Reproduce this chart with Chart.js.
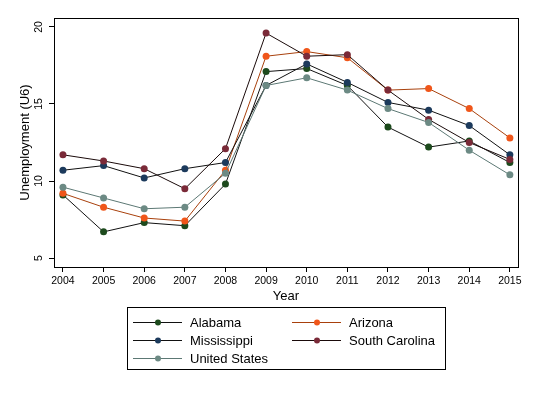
<!DOCTYPE html>
<html lang="en">
<head>
<meta charset="UTF-8">
<title>Unemployment (U6)</title>
<script src="https://cdn.jsdelivr.net/npm/chart.js"></script>
<style>
  body { margin: 0; background: #fff; }
  canvas { display: block; }
</style>
</head>
<body>
<canvas id="chart" width="537" height="393"></canvas>
<script>
const years = [2004, 2005, 2006, 2007, 2008, 2009, 2010, 2011, 2012, 2013, 2014, 2015];
const yTicks = [5, 10, 15, 20];

const alabama       = [9.1, 6.7, 7.3, 7.1, 9.8, 17.1, 17.3, 16.2, 13.5, 12.2, 12.6, 11.2];
const arizona       = [9.2, 8.3, 7.6, 7.4, 10.7, 18.1, 18.4, 18.0, 15.9, 16.0, 14.7, 12.8];
const mississippi   = [10.7, 11.0, 10.2, 10.8, 11.2, 16.2, 17.6, 16.4, 15.1, 14.6, 13.6, 11.7];
const southCarolina = [11.7, 11.3, 10.8, 9.5, 12.1, 19.6, 18.1, 18.2, 15.9, 14.0, 12.5, 11.4];
const unitedStates  = [9.6, 8.9, 8.2, 8.3, 10.5, 16.2, 16.7, 15.9, 14.7, 13.8, 12.0, 10.4];

const FONT = 'Arial, "Liberation Sans", sans-serif';

function series(label, values, line, marker, order) {
  return {
    label: label,
    data: values.map((v, i) => ({ x: years[i], y: v })),
    borderColor: line,
    backgroundColor: marker,
    pointBackgroundColor: marker,
    pointBorderColor: marker,
    pointRadius: 3.5,
    pointBorderWidth: 0,
    borderWidth: 1,
    tension: 0,
    order: order
  };
}

// legend + frame + rotated y labels, Stata look
const stataBits = {
  id: 'stataBits',
  afterDraw(chart) {
    const c = chart.ctx;
    const a = chart.chartArea;
    const ys = chart.scales.y;

    c.save();
    c.strokeStyle = '#000';
    c.lineWidth = 1;
    c.strokeRect(Math.round(a.left) + 0.5, Math.round(a.top) + 0.5,
                 Math.round(a.right - a.left), Math.round(a.bottom - a.top));

    c.fillStyle = '#000';
    c.textAlign = 'center';
    c.textBaseline = 'middle';
    c.font = '10.5px ' + FONT;
    yTicks.forEach(v => {
      c.save();
      c.translate(39, ys.getPixelForValue(v));
      c.rotate(-Math.PI / 2);
      c.fillText(String(v), 0, 0);
      c.restore();
    });

    c.font = '13px ' + FONT;
    c.save();
    c.translate(25, (a.top + a.bottom) / 2);
    c.rotate(-Math.PI / 2);
    c.fillText('Unemployment (U6)', 0, 0);
    c.restore();

    c.fillText('Year', (a.left + a.right) / 2, 296);

    // legend box
    c.strokeRect(127.5, 307.5, 318, 62);
    const slots = [
      [133, 322], [292, 322],
      [133, 340], [292, 340],
      [133, 358]
    ];
    c.textAlign = 'left';
    chart.data.datasets.forEach((ds, i) => {
      const [x, y] = slots[i];
      c.strokeStyle = ds.borderColor;
      c.beginPath();
      c.moveTo(x, y + 0.5);
      c.lineTo(x + 49, y + 0.5);
      c.stroke();
      c.fillStyle = ds.pointBackgroundColor;
      c.beginPath();
      c.arc(x + 25, y + 0.5, 3, 0, Math.PI * 2);
      c.fill();
      c.fillStyle = '#000';
      c.fillText(ds.label, x + 57, y + 1);
    });
    c.restore();
  }
};

new Chart(document.getElementById('chart'), {
  type: 'line',
  data: {
    datasets: [
      series('Alabama', alabama, '#111', '#1d4a1d', 5),
      series('Arizona', arizona, '#a8400c', '#f0561a', 4),
      series('Mississippi', mississippi, '#111', '#1c3a5c', 3),
      series('South Carolina', southCarolina, '#1a0a0a', '#7a2a38', 2),
      series('United States', unitedStates, '#5c7874', '#6c8a84', 1)
    ]
  },
  options: {
    responsive: false,
    animation: false,
    layout: { padding: { top: 18, right: 19, left: 0, bottom: 0 } },
    plugins: { legend: { display: false }, tooltip: { enabled: false } },
    scales: {
      x: {
        type: 'linear',
        min: 2003.78,
        max: 2015.2,
        afterBuildTicks: axis => { axis.ticks = years.map(v => ({ value: v })); },
        afterFit: axis => { axis.height = 126; },
        grid: { drawOnChartArea: false, tickLength: 5, color: '#000' },
        border: { display: false },
        ticks: {
          color: '#000',
          padding: 3,
          maxRotation: 0,
          font: { family: FONT, size: 10.5 },
          callback: v => String(v)
        }
      },
      y: {
        min: 4.42,
        max: 20.58,
        afterBuildTicks: axis => { axis.ticks = yTicks.map(v => ({ value: v })); },
        afterFit: axis => { axis.width = 54; },
        grid: { drawOnChartArea: false, tickLength: 5, color: '#000' },
        border: { display: false },
        ticks: { display: false }
      }
    }
  },
  plugins: [stataBits]
});
</script>
</body>
</html>
